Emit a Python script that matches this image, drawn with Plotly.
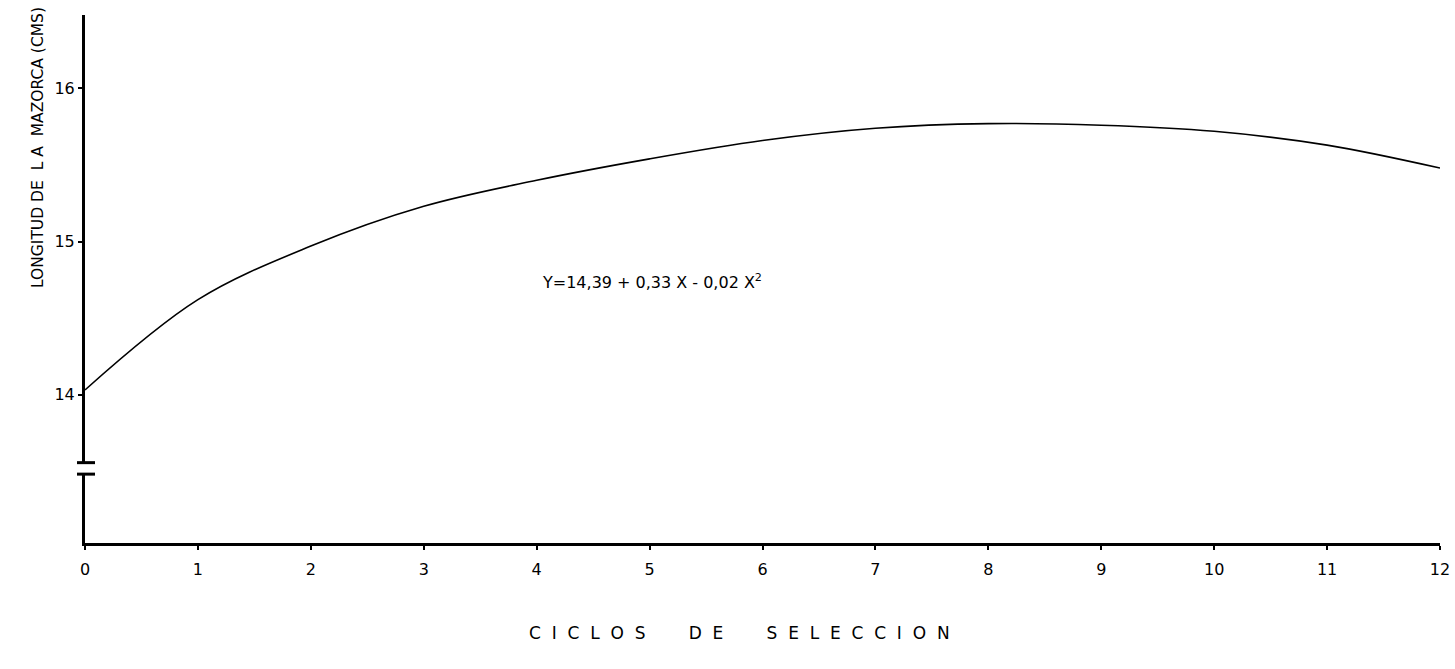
import plotly.graph_objects as go

# Data
ciclos = [0, 1, 2, 3, 4, 5, 6, 7, 8, 9, 10, 11, 12]
longitud = [14.03, 14.62, 14.97, 15.23, 15.40, 15.54, 15.66, 15.74, 15.77, 15.76, 15.72, 15.63, 15.48]
x_ticks = list(range(0, 13))
y_ticks = [14, 15, 16]
y_range = [13.03, 16.48]
x_range = [0, 12]
break_lo, break_hi = 13.48, 13.555

equation = "Y=14,39 + 0,33 X - 0,02 X<sup>2</sup>"
nb = "\u00a0"
x_title = (nb * 2).join(list("CICLOS")) + nb * 8 + (nb * 2).join(list("DE")) + nb * 8 + (nb * 2).join(list("SELECCION"))
y_title = "LONGITUD" + nb + "DE" + nb * 2 + "L" + nb + "A" + nb * 2 + "MAZORCA" + nb + "(CMS)"

font_family = "DejaVu Sans, Liberation Sans, sans-serif"

fig = go.Figure()
fig.add_trace(go.Scatter(
    x=ciclos, y=longitud, mode="lines",
    line=dict(color="black", width=1.6, shape="spline", smoothing=1.0),
    hoverinfo="skip", showlegend=False,
))

fig.update_layout(
    width=1455, height=669,
    margin=dict(l=85, r=15, t=15, b=126),
    paper_bgcolor="white", plot_bgcolor="white",
    font=dict(family=font_family, color="black", size=15),
    xaxis=dict(
        range=x_range, tickmode="array", tickvals=x_ticks,
        ticktext=[str(v) for v in x_ticks], automargin=False,
        showline=True, linecolor="black", linewidth=3,
        ticks="outside", ticklen=4, tickwidth=2, tickcolor="black",
        showgrid=False, zeroline=False, ticklabelstandoff=6,
        tickfont=dict(size=16),
    ),
    yaxis=dict(
        range=y_range, tickmode="array", tickvals=y_ticks,
        ticktext=[str(v) for v in y_ticks], automargin=False,
        showline=True, linecolor="black", linewidth=3,
        ticks="outside", ticklen=4, tickwidth=2, tickcolor="black",
        showgrid=False, zeroline=False, ticklabelstandoff=0,
        tickfont=dict(size=16),
    ),
    shapes=[
        # axis break: white gap + two bars
        dict(type="rect", xref="paper", yref="y", xsizemode="pixel", xanchor=0,
             x0=-6, x1=6, y0=break_lo, y1=break_hi,
             fillcolor="white", line=dict(width=0), layer="above"),
        dict(type="line", xref="paper", yref="y", xsizemode="pixel", xanchor=0,
             x0=-8, x1=10, y0=break_hi, y1=break_hi,
             line=dict(color="black", width=3), layer="above"),
        dict(type="line", xref="paper", yref="y", xsizemode="pixel", xanchor=0,
             x0=-8, x1=10, y0=break_lo, y1=break_lo,
             line=dict(color="black", width=3), layer="above"),
    ],
    annotations=[
        dict(text=equation, x=4.03, y=14.74, xref="x", yref="y",
             xanchor="left", yanchor="middle", showarrow=False,
             font=dict(size=16)),
        dict(text=y_title, x=0, y=0.748, xref="paper", yref="paper",
             xshift=-47, textangle=-90, showarrow=False,
             xanchor="center", yanchor="middle", font=dict(size=15.5)),
        dict(text=x_title, x=0.483, y=0, xref="paper", yref="paper",
             yshift=-90, showarrow=False, xanchor="center", yanchor="middle",
             font=dict(size=17)),
    ],
)

fig.write_html("out.html", config={"displayModeBar": False},
               post_script="document.body.style.margin='0';document.body.style.overflow='hidden';")
